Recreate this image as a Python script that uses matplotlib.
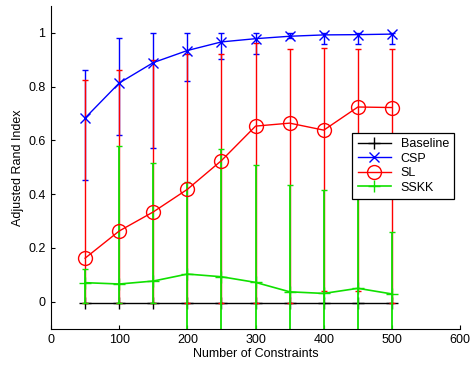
import matplotlib
matplotlib.use('Agg')
import matplotlib.pyplot as plt
from matplotlib.lines import Line2D

plt.rcParams['font.family'] = ['Liberation Sans', 'DejaVu Sans']

n_constraints = [50, 100, 150, 200, 250, 300, 350, 400, 450, 500]

baseline = [-0.006] * 10

csp = [0.683, 0.813, 0.889, 0.934, 0.966, 0.978, 0.987, 0.992, 0.993, 0.995]
csp_low = [0.453, 0.620, 0.570, 0.822, 0.903, 0.922, 0.981, 0.960, 0.960, 0.960]
csp_high = [0.860, 0.980, 1.000, 1.000, 1.000, 1.000, 1.000, 1.000, 1.000, 1.000]

sl = [0.162, 0.263, 0.334, 0.418, 0.525, 0.653, 0.664, 0.638, 0.724, 0.722]
sl_low = [-0.005, -0.005, -0.005, -0.005, -0.005, -0.005, -0.005, 0.041, 0.041, -0.005]
sl_high = [0.825, 0.860, 0.900, 0.920, 0.922, 0.962, 0.941, 0.945, 0.941, 0.941]

sskk = [0.071, 0.066, 0.077, 0.103, 0.093, 0.072, 0.037, 0.031, 0.050, 0.029]
sskk_low = [-0.004, -0.004, -0.004, -0.24, -0.38, -0.36, -0.36, -0.35, -0.40, -0.20]
sskk_high = [0.120, 0.580, 0.515, 0.445, 0.569, 0.507, 0.435, 0.415, 0.450, 0.261]

green = '#10e000'

fig = plt.figure(figsize=(4.72, 3.66), dpi=100)
ax = fig.add_axes([0.108, 0.102, 0.867, 0.882])


def err(mean, low, high):
    return [[m - l for m, l in zip(mean, low)], [h - m for m, h in zip(mean, high)]]


styles = {
    'Baseline': dict(color='black', marker='+', markersize=9, linewidth=1.0),
    'CSP': dict(color='blue', marker='x', markersize=6.5, linewidth=1.0),
    'SL': dict(color='red', marker='o', markersize=10, markerfacecolor='none', linewidth=1.0),
    'SSKK': dict(color=green, marker='+', markersize=9, linewidth=1.2),
}

ax.plot(n_constraints, baseline, **styles['Baseline'])
ax.errorbar(n_constraints, csp, yerr=err(csp, csp_low, csp_high),
            elinewidth=1.0, capsize=2.3, **styles['CSP'])
ax.errorbar(n_constraints, sl, yerr=err(sl, sl_low, sl_high),
            elinewidth=1.0, capsize=2.3, **styles['SL'])
ax.errorbar(n_constraints, sskk, yerr=err(sskk, sskk_low, sskk_high),
            elinewidth=1.3, capsize=2.3, **styles['SSKK'])

ax.set_xlim(0, 600)
ax.set_ylim(-0.1, 1.1)
ax.set_xticks([0, 100, 200, 300, 400, 500, 600])
ax.set_yticks([0, 0.2, 0.4, 0.6, 0.8, 1.0])
ax.set_yticklabels(['0', '0.2', '0.4', '0.6', '0.8', '1'])
ax.tick_params(direction='in', length=3, width=0.8, labelsize=9, pad=4)
for side in ['top', 'right']:
    ax.spines[side].set_visible(False)
for side in ['left', 'bottom']:
    ax.spines[side].set_linewidth(0.8)

ax.set_xlabel('Number of Constraints', fontsize=9, labelpad=1)
ax.set_ylabel('Adjusted Rand Index', fontsize=9, labelpad=3)

# legend shows plain line + marker, no error bars
handles = [Line2D([], [], **s) for s in styles.values()]
leg = ax.legend(handles, list(styles.keys()), loc='upper right',
                bbox_to_anchor=(0.986, 0.607), fontsize=9,
                fancybox=False, framealpha=1, edgecolor='black',
                borderpad=0.45, labelspacing=0.2, handlelength=2.6,
                handletextpad=0.8, borderaxespad=0)
leg.get_frame().set_linewidth(0.9)

fig.savefig('out.png', dpi=100)
